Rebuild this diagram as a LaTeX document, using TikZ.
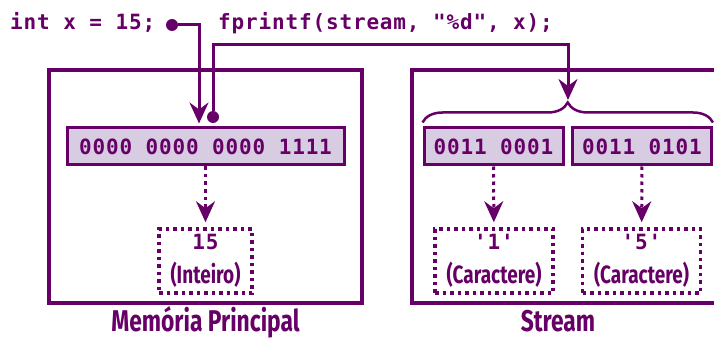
\documentclass[tikz,border=0pt]{standalone}
\usepackage{fontspec}
\setmonofont[LetterSpace=4]{DejaVu Sans Mono}
\setsansfont[FakeStretch=0.76]{Fira Sans}
\usetikzlibrary{arrows.meta, positioning, decorations.pathreplacing}

\definecolor{roxo}{RGB}{102,0,102}
\definecolor{lilas}{RGB}{216,204,226}
\newcommand{\fontetipo}{\sffamily\bfseries\fontsize{25}{34}\selectfont}

\tikzset{
  codigo/.style={font=\ttfamily\bfseries\fontsize{21}{24}\selectfont, text=roxo, inner sep=0pt},
  painel/.style={draw=roxo, line width=3.5pt, minimum height=233pt},
  celula/.style={draw=roxo, fill=lilas, line width=3pt, minimum height=37pt, inner sep=0pt,
    font=\ttfamily\bfseries\fontsize{21}{24}\selectfont, text=roxo},
  valor/.style={draw=roxo, line width=3.5pt, dash pattern=on 3.5pt off 4pt, minimum height=64pt,
    align=center, inner sep=0pt, text=roxo, font=\ttfamily\bfseries\fontsize{21}{34}\selectfont},
  rotulo/.style={font=\sffamily\bfseries\fontsize{30}{32}\selectfont, text=roxo, inner sep=0pt},
  liga/.style={draw=roxo, line width=3pt, -{Stealth[length=21pt, width=19pt, inset=7pt]}},
  pontilha/.style={liga, dash pattern=on 3.5pt off 4pt},
  ponto/.style={circle, fill=roxo, inner sep=0pt, minimum size=12pt},
}

\begin{document}
\begin{tikzpicture}[x=1pt, y=-1pt]
\useasboundingbox (0,0) rectangle (714,339); % tamanho da figura

%% Codigo C %%%%%%%%%%%%%%%%%%%%%%%%%%%%
\node[codigo, anchor=base west] (decl) at (10,30) {int x = 15;};
\node[codigo, anchor=base west] (chamada) at (218,30) {fprintf(stream, "\%d", x);};

%% Memoria principal %%%%%%%%%%%%%%%%%%%
\node[painel, minimum width=313pt] (memoria) at (205.5,186.5) {};
\node[rotulo, anchor=base] (rotmem) at (205.5,331) {Memória Principal};
\node[celula, minimum width=277pt] (celmem) at (205.5,146.5) {0000 0000 0000 1111};
\node[valor, minimum width=93pt] (valmem) at (205.5,261)
  {15\\{\fontetipo (Inteiro)}};
\draw[pontilha, shorten >=5pt] (celmem) -- (valmem);

%% Stream %%%%%%%%%%%%%%%%%%%%%%%%%%%%%%
\node[painel, minimum width=348pt] (stream) at (586,186.5) {};
\node[rotulo, anchor=base] (rotstream) at (558,331) {Stream};
\foreach \nm/\bits/\ch/\cx/\vx in {um/0011 0001/'1'/493.5/494, cinco/0011 0101/'5'/642/641.5}{
  \node[celula, minimum width=139pt] (cel\nm) at (\cx,146.5) {\bits};
  \node[valor, minimum width=118pt] (val\nm) at (\vx,261) {\ch\\{\fontetipo (Caractere)}};
  \draw[pontilha, shorten >=5pt] (cel\nm) -- (val\nm);
}
\draw[roxo, line width=2.5pt, decorate, decoration={brace, amplitude=20pt}]
  ([yshift=4pt]celum.north west) -- ([yshift=4pt]celcinco.north east);

%% Ligacoes %%%%%%%%%%%%%%%%%%%%%%%%%%%%
\node[ponto] (pA) at (172,25) {};
\node[ponto] (pB) at (213,117) {};
\coordinate (curva) at (568,45);
\coordinate (ponta) at (568,104);
\draw[liga, shorten >=3pt] (pA) -| ([xshift=-6.5pt]celmem.north);
\draw[liga, shorten >=4pt] (pB) |- (curva) -- (ponta);
\end{tikzpicture}
\end{document}
